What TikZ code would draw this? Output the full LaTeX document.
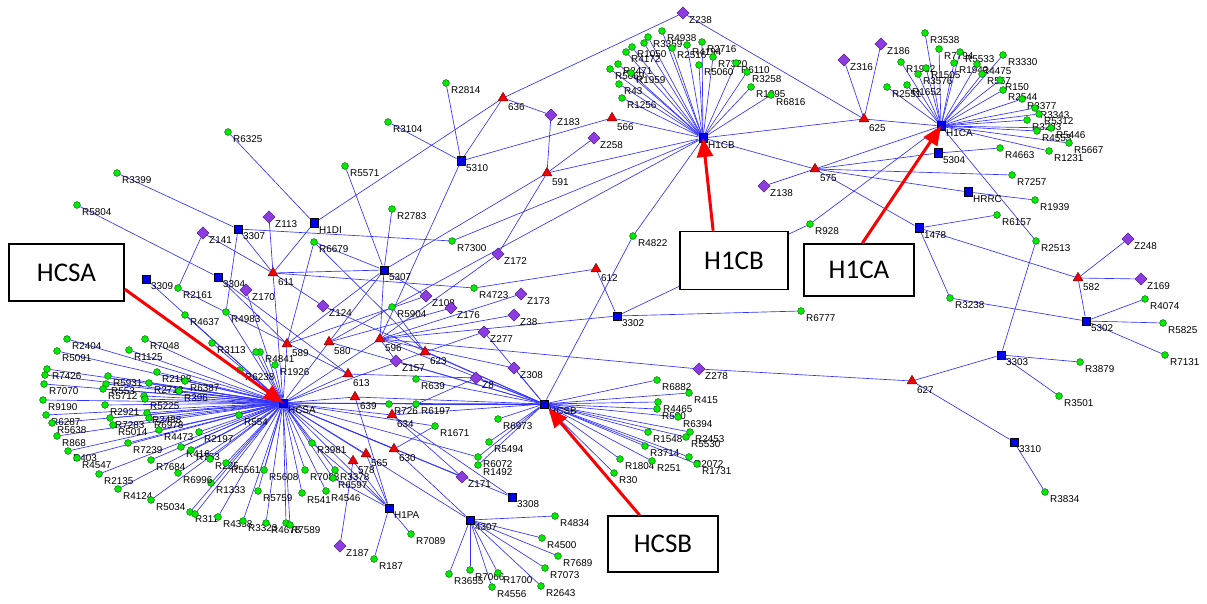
\documentclass[tikz,border=0pt]{standalone}
\usepackage{fontspec}
\setmainfont{Liberation Sans}
\newfontfamily\boxfont{Carlito}
\usetikzlibrary{shapes.geometric,arrows.meta}
\pgfdeclarelayer{bg}
\pgfsetlayers{bg,main}
\definecolor{lnkblue}{RGB}{50,50,255}
\definecolor{gfill}{RGB}{0,235,0}
\definecolor{gdraw}{RGB}{0,90,0}
\definecolor{sfill}{RGB}{0,0,235}
\definecolor{tfill}{RGB}{240,0,0}
\definecolor{tdraw}{RGB}{110,0,0}
\definecolor{dfill}{RGB}{140,60,225}
\definecolor{ddraw}{RGB}{60,20,110}
\definecolor{arrred}{RGB}{250,0,0}
\newcommand\RG[4]{\node[gnode] (#1) at (#2,#3) {};\node[lbl] at ({#2+5},{#3+3.5}) {#4};}
\newcommand\SQ[4]{\node[snode] (#1) at (#2,#3) {};\node[lbl] at ({#2+5},{#3+3.5}) {#4};}
\newcommand\TR[4]{\node[tnode] (#1) at (#2,{#3+1}) {};\node[lbl] at ({#2+5},{#3+6}) {#4};}
\newcommand\DM[4]{\node[dnode] (#1) at (#2,#3) {};\node[lbl] at ({#2+6},{#3+3.5}) {#4};}
\begin{document}
\begin{tikzpicture}[x=1pt,y=-1pt,
  lnk/.style={draw=lnkblue,line width=0.65pt},
  gnode/.style={circle,fill=gfill,draw=gdraw,line width=0.4pt,inner sep=0pt,minimum size=6.8pt},
  snode/.style={rectangle,fill=sfill,draw=black,line width=0.5pt,inner sep=0pt,minimum size=8.5pt},
  tnode/.style={regular polygon,regular polygon sides=3,fill=tfill,draw=tdraw,line width=0.4pt,inner sep=0pt,minimum size=11.5pt},
  dnode/.style={diamond,aspect=1,fill=dfill,draw=ddraw,line width=0.4pt,inner sep=0pt,minimum size=12.5pt},
  lbl/.style={font=\fontsize{9.9}{10}\selectfont,inner sep=0pt,anchor=north west,text=black},
  bx/.style={draw=black,line width=1.6pt,fill=white,inner sep=0pt,font=\boxfont\fontsize{27}{30}\selectfont},
  redarr/.style={draw=arrred,line width=3pt,-{Triangle[length=19pt,width=16pt]}}]
\begin{pgfonlayer}{bg}
\fill[white] (0,0) rectangle (1207,604);
\end{pgfonlayer}
\useasboundingbox (0,0) rectangle (1207,604);
% squares
\SQ{HCSA}{283}{403}{HCSA}
\SQ{HCSB}{544}{404}{HCSB}
\SQ{H1CB}{703}{138}{H1CB}
\SQ{H1CA}{941}{126}{H1CA}
\SQ{s5310}{461}{161}{5310}
\SQ{s5307}{384}{270}{5307}
\SQ{H1DI}{314}{223}{H1DI}
\SQ{s3307}{238}{229}{3307}
\SQ{s3304}{218}{277}{3304}
\SQ{s3309}{146}{279}{3309}
\SQ{s3302}{617}{316}{3302}
\SQ{s3308}{512}{497}{3308}
\SQ{s4307}{470}{520}{4307}
\SQ{H1PA}{389}{508}{H1PA}
\SQ{s5304}{938}{153}{5304}
\SQ{HRRC}{968}{192}{HRRC}
\SQ{s1478}{919}{228}{1478}
\SQ{s5302}{1086}{321}{5302}
\SQ{s3303}{1001}{355}{3303}
\SQ{s3310}{1014}{442}{3310}
% triangles
\TR{t636}{503}{97}{636}
\TR{t566}{612}{117}{566}
\TR{t591}{547}{172}{591}
\TR{t612}{596}{268}{612}
\TR{t625}{864}{118}{625}
\TR{t575}{815}{168}{575}
\TR{t582}{1078}{277}{582}
\TR{t627}{912}{380}{627}
\TR{t611}{273}{272}{611}
\TR{t589}{287}{343}{589}
\TR{t580}{329}{341}{580}
\TR{t596}{380}{338}{596}
\TR{t623}{425}{351}{623}
\TR{t613}{348}{373}{613}
\TR{t639}{355}{396}{639}
\TR{t634}{392}{414}{634}
\TR{t630}{394}{448}{630}
\TR{t565}{366}{453}{565}
\TR{t578}{353}{460}{578}
% diamonds
\DM{Z238}{683}{13}{Z238}
\DM{Z183}{551}{115}{Z183}
\DM{Z258}{594}{138}{Z258}
\DM{Z316}{844}{60}{Z316}
\DM{Z186}{881}{44}{Z186}
\DM{Z138}{764}{186}{Z138}
\DM{Z248}{1128}{239}{Z248}
\DM{Z169}{1141}{279}{Z169}
\DM{Z113}{269}{217}{Z113}
\DM{Z141}{203}{233}{Z141}
\DM{Z170}{246}{290}{Z170}
\DM{Z124}{323}{306}{Z124}
\DM{Z108}{426}{296}{Z108}
\DM{Z176}{451}{308}{Z176}
\DM{Z172}{498}{254}{Z172}
\DM{Z173}{521}{294}{Z173}
\DM{Z38}{514}{315}{Z38}
\DM{Z277}{484}{332}{Z277}
\DM{Z157}{396}{361}{Z157}
\DM{Z308}{514}{368}{Z308}
\DM{Z8}{476}{378}{Z8}
\DM{Z278}{699}{369}{Z278}
\DM{Z171}{462}{477}{Z171}
\DM{Z187}{340}{546}{Z187}
% green - misc
\RG{R6325}{228}{132}{R6325}
\RG{R3399}{117}{173}{R3399}
\RG{R5804}{77}{205}{R5804}
\RG{R3104}{388}{122}{R3104}
\RG{R2814}{446}{83}{R2814}
\RG{R5571}{345}{166}{R5571}
\RG{R2783}{392}{209}{R2783}
\RG{R6679}{314}{242}{R6679}
\RG{R7300}{452}{241}{R7300}
\RG{R4822}{633}{236}{R4822}
\RG{R928}{810}{224}{R928}
\RG{R6777}{801}{311}{R6777}
\RG{R2161}{178}{288}{R2161}
\RG{R4723}{474}{288}{R4723}
\RG{R5904}{392}{307}{R5904}
\RG{R639}{416}{379}{R639}
\RG{R726}{389}{404}{R726}
\RG{R6197}{416}{404}{R6197}
\RG{R1671}{435}{426}{R1671}
\RG{R7089}{411}{534}{R7089}
\RG{R187}{374}{559}{R187}
\RG{R6157}{997}{215}{R6157}
\RG{R2513}{1036}{241}{R2513}
\RG{R3238}{950}{298}{R3238}
\RG{R4074}{1145}{299}{R4074}
\RG{R5825}{1163}{323}{R5825}
\RG{R7131}{1165}{355}{R7131}
\RG{R3879}{1080}{362}{R3879}
\RG{R3501}{1059}{396}{R3501}
\RG{R3834}{1045}{492}{R3834}
\RG{R4663}{1000}{148}{R4663}
\RG{R7257}{1012}{175}{R7257}
\RG{R1939}{1035}{200}{R1939}
% H1CB cluster
\RG{R4938}{662}{31}{R4938}
\RG{R3359}{648}{37}{R3359}
\RG{gx1}{644}{43}{}
\RG{R1050}{632}{47}{R1050}
\RG{R4172}{626}{52}{R4172}
\RG{R2471}{618}{64}{R2471}
\RG{R5069}{610}{69}{R5069}
\RG{R1959}{631}{73}{R1959}
\RG{R43}{619}{84}{R43}
\RG{R1256}{622}{98}{R1256}
\RG{R2516}{672}{48}{R2516}
\RG{R4194}{687}{45}{R4194}
\RG{R2716}{702}{42}{R2716}
\RG{R5060}{699}{65}{R5060}
\RG{R7320}{713}{57}{R7320}
\RG{R6110}{736}{63}{R6110}
\RG{R3258}{747}{72}{R3258}
\RG{R1395}{751}{87}{R1395}
\RG{R6816}{771}{95}{R6816}
% H1CA cluster
\RG{R3538}{925}{33}{R3538}
\RG{R7794}{939}{49}{R7794}
\RG{R5533}{960}{52}{R5533}
\RG{R3330}{1003}{55}{R3330}
\RG{R1932}{901}{62}{R1932}
\RG{R1505}{926}{68}{R1505}
\RG{R3576}{918}{74}{R3576}
\RG{R1942}{954}{63}{R1942}
\RG{R4475}{977}{64}{R4475}
\RG{R567}{982}{74}{R567}
\RG{R150}{1000}{80}{R150}
\RG{R2544}{1003}{90}{R2544}
\RG{R3377}{1022}{99}{R3377}
\RG{R2551}{887}{87}{R2551}
\RG{R1652}{907}{85}{R1652}
\RG{R3343}{1035}{108}{R3343}
\RG{R5312}{1039}{114}{R5312}
\RG{R3283}{1027}{120}{R3283}
\RG{R4553}{1037}{131}{R4553}
\RG{R5446}{1051}{128}{R5446}
\RG{R5667}{1069}{143}{R5667}
\RG{R1231}{1049}{151}{R1231}
% HCSB cluster
\RG{R6882}{657}{380}{R6882}
\RG{R415}{689}{393}{R415}
\RG{R4465}{658}{402}{R4465}
\RG{R580}{657}{409}{R580}
\RG{R6394}{678}{417}{R6394}
\RG{R2453}{690}{432}{R2453}
\RG{R5530}{686}{437}{R5530}
\RG{R1548}{648}{432}{R1548}
\RG{R3714}{645}{446}{R3714}
\RG{R1804}{620}{459}{R1804}
\RG{R251}{652}{461}{R251}
\RG{R2072}{689}{457}{R2072}
\RG{R1731}{697}{464}{R1731}
\RG{R30}{614}{473}{R30}
\RG{R6973}{498}{419}{R6973}
\RG{R5494}{489}{442}{R5494}
\RG{R6072}{478}{457}{R6072}
\RG{R1492}{478}{465}{R1492}
% 4307 cluster
\RG{R3655}{449}{574}{R3655}
\RG{R7066}{470}{570}{R7066}
\RG{R1700}{498}{573}{R1700}
\RG{R4556}{492}{587}{R4556}
\RG{R2643}{541}{586}{R2643}
\RG{R7073}{545}{568}{R7073}
\RG{R7689}{558}{556}{R7689}
\RG{R4500}{542}{538}{R4500}
\RG{R4834}{555}{516}{R4834}
% HCSA cluster
\RG{R2404}{67}{339}{R2404}
\RG{R5091}{57}{351}{R5091}
\RG{R7048}{145}{339}{R7048}
\RG{R1125}{129}{350}{R1125}
\RG{R7426}{47}{369}{R7426}
\RG{gx2}{45}{375}{}
\RG{R7070}{44}{384}{R7070}
\RG{R5931}{108}{376}{R5931}
\RG{R553}{106}{384}{R553}
\RG{R5712}{103}{389}{R5712}
\RG{R2188}{157}{372}{R2188}
\RG{R2712}{149}{383}{R2712}
\RG{R6387}{185}{381}{R6387}
\RG{gx3}{144}{396}{}
\RG{R5225}{145}{399}{R5225}
\RG{R396}{179}{391}{R396}
\RG{R9190}{43}{400}{R9190}
\RG{R2921}{105}{405}{R2921}
\RG{R6287}{46}{415}{R6287}
\RG{R5638}{52}{423}{R5638}
\RG{R7283}{110}{418}{R7283}
\RG{R5014}{113}{425}{R5014}
\RG{R2488}{147}{413}{R2488}
\RG{R6978}{149}{418}{R6978}
\RG{R4473}{159}{430}{R4473}
\RG{R2197}{199}{432}{R2197}
\RG{R554}{239}{415}{R554}
\RG{R868}{57}{436}{R868}
\RG{R7239}{128}{443}{R7239}
\RG{R416}{181}{447}{R416}
\RG{R403}{68}{451}{R403}
\RG{R4547}{77}{458}{R4547}
\RG{R7684}{151}{460}{R7684}
\RG{R753}{191}{450}{R753}
\RG{R225}{210}{459}{R225}
\RG{R2135}{99}{474}{R2135}
\RG{R4124}{118}{489}{R4124}
\RG{R1333}{211}{483}{R1333}
\RG{R5034}{151}{500}{R5034}
\RG{R311}{190}{512}{R311}
\RG{gx4}{195}{514}{}
\RG{R4358}{218}{517}{R4358}
\RG{R3323}{243}{521}{R3323}
\RG{R4678}{266}{523}{R4678}
\RG{R7589}{286}{523}{R7589}
\RG{gx5}{290}{525}{}
\RG{R6996}{178}{473}{R6996}
\RG{R5561}{226}{463}{R5561}
\RG{R5608}{264}{470}{R5608}
\RG{R5759}{258}{491}{R5759}
\RG{R7088}{305}{470}{R7088}
\RG{R3378}{335}{470}{R3378}
\RG{R6597}{333}{478}{R6597}
\RG{R3981}{312}{443}{R3981}
\RG{R541}{302}{493}{R541}
\RG{R4546}{326}{491}{R4546}
\RG{R3113}{212}{343}{R3113}
\RG{R4841}{260}{352}{R4841}
\RG{gx6}{256}{352}{}
\RG{R6238}{240}{370}{R6238}
\RG{R1926}{275}{365}{R1926}
\RG{R4637}{185}{315}{R4637}
\RG{R4983}{226}{312}{R4983}
% edges
\begin{pgfonlayer}{bg}
\foreach \b in {R2404,R5091,R7048,R1125,R7426,gx2,R7070,R5931,R553,R5712,R2188,R2712,R6387,gx3,R5225,R396,R9190,R2921,R6287,R5638,R7283,R5014,R2488,R6978,R4473,R2197,R554,R868,R7239,R416,R403,R4547,R7684,R753,R225,R2135,R4124,R1333,R5034,R311,gx4,R4358,R3323,R4678,R7589,gx5,R6996,R5561,R5608,R5759,R7088,R3378,R6597,R3981,R541,R4546,R3113,R4841,gx6,R6238,R1926,R4637,R4983}
  \draw[lnk] (HCSA) -- (\b);
\foreach \b in {R4938,R3359,gx1,R1050,R4172,R2471,R5069,R1959,R43,R1256,R2516,R4194,R2716,R5060,R7320,R6110,R3258,R1395,R6816}
  \draw[lnk] (H1CB) -- (\b);
\foreach \b in {R3538,R7794,R5533,R3330,R1932,R1505,R3576,R1942,R4475,R567,R150,R2544,R3377,R2551,R1652,R3343,R5312,R3283,R4553,R5446,R5667,R1231}
  \draw[lnk] (H1CA) -- (\b);
\foreach \b in {R6882,R415,R4465,R580,R6394,R2453,R5530,R1548,R3714,R1804,R251,R2072,R1731,R30,R6973,R5494,R6072,R1492}
  \draw[lnk] (HCSB) -- (\b);
\foreach \b in {R3655,R7066,R1700,R4556,R2643,R7073,R7689,R4500,R4834}
  \draw[lnk] (s4307) -- (\b);
\foreach \a/\b in {Z238/t636,Z238/t625,t636/H1DI,t636/s5310,t636/Z183,R2814/s5310,R3104/s5310,s5310/t566,s5310/t596,Z183/t591,t591/Z258,t591/H1CB,t591/s5307,t591/Z172,t566/H1CB,R7300/H1CB,R5904/H1CB,R4822/H1CB,R4822/HCSB,t612/R4723,t612/s3302,s3302/R928,s3302/R6777,s3302/t596,R928/H1CA,H1CB/t575,H1CB/t625,t625/H1CA,Z316/t625,Z186/t625,t575/Z138,t575/H1CA,t575/s5304,s5304/R4663,t575/R7257,t575/HRRC,HRRC/R1939,t575/s1478,s1478/R6157,s1478/t582,s1478/R3238,H1CA/R2513,R2513/s3303,t582/Z248,t582/Z169,t582/s5302,R3238/s5302,s5302/R4074,s5302/R5825,s5302/R7131,s3303/t627,s3303/R3879,s3303/R3501,t627/s3310,s3310/R3834,Z278/t627,t596/Z278}
  \draw[lnk] (\a) -- (\b);
\foreach \a/\b in {R6325/H1DI,R3399/s3307,R5804/s3304,s3307/R7300,Z141/t611,s3307/t611,Z113/t611,H1DI/t611,s3307/R4983,Z141/R2161,t611/s5307,t611/R4723,t611/Z124,t611/HCSA,R2783/s5307,R5571/s5307,R6679/t589,R6679/s5307,R6679/t623,s5307/t596,s5307/t589,s5307/t580,s5307/Z108,Z108/t589,Z176/t580,R5904/t580,R5904/t623,t580/HCSB,t589/HCSA,s3304/t589,s3304/t613,R2161/t613,s3309/HCSA,Z170/HCSA,Z124/HCSB,Z172/t596,Z173/t596,Z38/t596,Z277/HCSB,t623/Z277,t623/HCSB,Z308/HCSB,Z308/t596,Z157/t596,Z157/HCSB,t613/Z8,R639/HCSB,Z8/t634,t613/HCSA,t580/HCSA,t596/HCSA,t623/HCSA,t596/HCSB,HCSA/HCSB,HCSA/t639,t639/HCSB,t639/H1PA,HCSA/t634,t634/HCSB,t634/Z171,t634/s3308,HCSA/t630,t630/s4307,t630/R1671,HCSA/t565,HCSA/t578,t565/H1PA,t578/H1PA,Z187/t578,HCSA/H1PA,H1PA/R7089,H1PA/R187,H1PA/R3981,H1PA/R6597,HCSA/s4307,HCSA/s3308,HCSA/Z171,HCSA/R726,HCSA/R6197,HCSA/R1671,R6197/HCSB,HCSA/R6072,Z8/HCSB}
  \draw[lnk] (\a) -- (\b);
\end{pgfonlayer}
% boxes
\node[bx,minimum width=115pt,minimum height=57pt] (bHCSA) at (66.5,272.5) {HCSA};
\node[bx,minimum width=108pt,minimum height=58pt] (bH1CB) at (734,260.5) {H1CB};
\node[bx,minimum width=110pt,minimum height=52pt] (bH1CA) at (859,270) {H1CA};
\node[bx,minimum width=110pt,minimum height=56pt] (bHCSB) at (663,544) {HCSB};
% red arrows
\draw[redarr] (bHCSA.-16) -- (HCSA.center);
\draw[redarr] (bH1CB.125) -- (H1CB.center);
\draw[redarr] (bH1CA.83) -- (H1CA.center);
\draw[redarr] (bHCSB.129) -- (HCSB.south east);
\end{tikzpicture}
\end{document}
